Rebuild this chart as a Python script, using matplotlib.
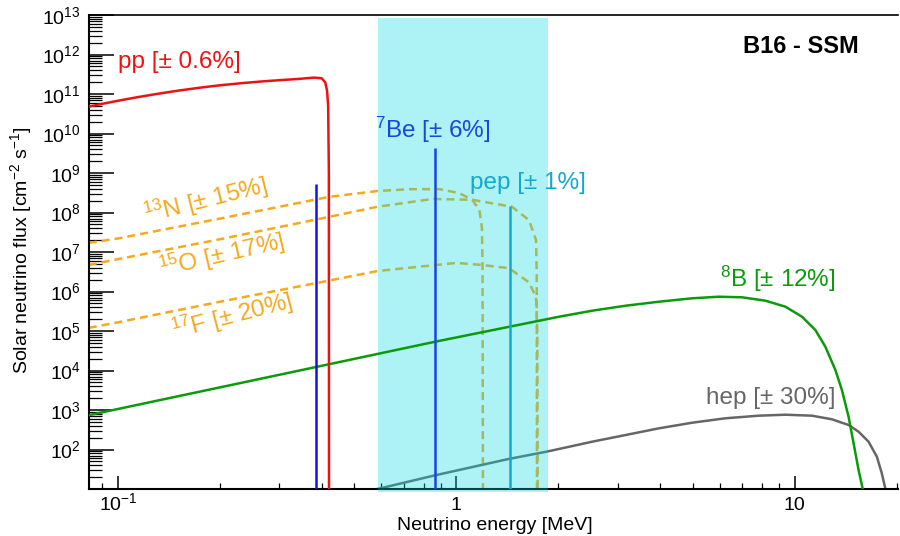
import numpy as np
import matplotlib
matplotlib.use('Agg')
import matplotlib.pyplot as plt
from matplotlib.ticker import FixedLocator, FixedFormatter, LogLocator, NullFormatter

plt.rcParams['font.family'] = ['Liberation Sans', 'DejaVu Sans']
plt.rcParams['mathtext.fontset'] = 'custom'
plt.rcParams['mathtext.rm'] = 'Liberation Sans'
plt.rcParams['mathtext.it'] = 'Liberation Sans:italic'
plt.rcParams['mathtext.bf'] = 'Liberation Sans:bold'

# values: energy [MeV], flux [cm^-2 s^-1]
pp_E = [0.082, 0.09, 0.10, 0.115, 0.13, 0.15, 0.174, 0.20, 0.235, 0.27, 0.31, 0.344,
        0.38, 0.40, 0.41, 0.415, 0.418, 0.42, 0.4205]
pp_flux = [4.8e10, 5.65e10, 6.75e10, 8.4e10, 1.0e11, 1.21e11, 1.44e11, 1.66e11, 1.9e11,
           2.1e11, 2.28e11, 2.42e11, 2.6e11, 2.5e11, 1.95e11, 1.2e11, 5e10, 1e9, 1.0]

n13_E = [0.082, 0.10, 0.20, 0.422, 0.585, 0.73, 0.89, 1.02, 1.114, 1.17, 1.19, 1.195, 1.199]
n13_flux = [1.7e7, 2.2e7, 7e7, 2.5e8, 3.5e8, 3.9e8, 3.9e8, 3.1e8, 2.1e8, 1.16e8, 4.2e7, 5e6, 1.0]

o15_E = [0.082, 0.10, 0.20, 0.422, 0.585, 0.85, 1.114, 1.46, 1.64, 1.72, 1.728, 1.732]
o15_flux = [4.7e6, 6.6e6, 2.1e7, 7.8e7, 1.4e8, 2.2e8, 2.1e8, 1.4e8, 6.4e7, 2.0e7, 3e6, 1.0]

f17_E = [0.082, 0.10, 0.20, 0.422, 0.585, 1.0, 1.19, 1.43, 1.64, 1.72, 1.735, 1.74]
f17_flux = [1.2e5, 1.66e5, 5.5e5, 1.9e6, 3.3e6, 5.3e6, 4.7e6, 3.9e6, 1.7e6, 7.2e5, 1e5, 1.0]

b8_E = [0.082, 0.344, 0.861, 1.42, 2.013, 2.524, 3.167, 3.972, 4.98, 5.967, 6.99, 8.197,
        9.39, 10.51, 11.51, 12.32, 13.19, 13.79, 14.43, 14.93, 15.45, 15.87, 15.9]
b8_flux = [740, 1.0e4, 5.3e4, 1.26e5, 2.3e5, 3.27e5, 4.37e5, 5.52e5, 6.73e5, 7.38e5, 7.13e5,
           5.85e5, 4.12e5, 2.3e5, 1.06e5, 4.01e4, 1.03e4, 3.21e3, 676, 144, 30, 10.5, 1.0]

hep_E = [0.585, 0.861, 1.42, 1.87, 2.524, 3.167, 3.972, 4.98, 6.245, 7.83, 9.39, 11.25,
         12.88, 14.43, 15.45, 16.53, 17.49, 18.09, 18.52, 18.7]
hep_flux = [10, 22, 57, 90, 158, 233, 344, 477, 617, 718, 760, 718, 582, 417, 282, 158,
            66, 25, 10.5, 1.0]

line_E = [0.384, 0.862, 1.442]
line_flux = [5.3e8, 4.3e9, 1.45e8]

band_E = [0.585, 1.87]

ytick_vals = [10.0 ** k for k in range(2, 14)]
ytick_labels = [r'$\mathregular{10^{%d}}$' % k for k in range(2, 14)]
xtick_vals = [0.1, 1, 10]
xtick_labels = [r'$\mathregular{10^{-1}}$', '1', '10']

c_pp = '#ee1111'
c_cno = '#f8a81c'
c_be384 = '#1414e0'
c_be862 = '#1a46e0'
c_pep = '#16a8cc'
c_b8 = '#0a9a0a'
c_hep = '#666666'

fig = plt.figure(figsize=(9, 5.36), dpi=100)
ax = fig.add_axes([89 / 900, 1 - 489 / 536, (898 - 89) / 900, (489 - 15) / 536])
ax.set_xscale('log')
ax.set_yscale('log')
ax.set_xlim(0.0821, 20.2)
ax.set_ylim(10, 1e13)

dash = (0, (3.2, 2.0))
ax.plot(n13_E, n13_flux, color=c_cno, lw=1.8, ls=dash, zorder=2)
ax.plot(o15_E, o15_flux, color=c_cno, lw=1.8, ls=dash, zorder=2)
ax.plot(f17_E, f17_flux, color=c_cno, lw=1.8, ls=dash, zorder=2)
ax.plot(hep_E, hep_flux, color=c_hep, lw=1.8, zorder=2)

ax.axvspan(band_E[0], band_E[1], ymin=-0.0063, ymax=0.9937, color=(0.0, 0.85, 0.87),
           alpha=0.32, lw=0, zorder=3, clip_on=False)

ax.plot(b8_E, b8_flux, color=c_b8, lw=1.8, zorder=4)
ax.plot(pp_E, pp_flux, color=c_pp, lw=1.8, zorder=4)
ax.vlines(line_E, 1, line_flux, colors=[c_be384, c_be862, c_pep], lw=1.8, zorder=4)

fs = 17.5
ax.text(0.1, 6.6e11, 'pp [± 0.6%]', color=c_pp, fontsize=fs, ha='left', va='center')
ax.text(0.573, 1.23e10, '$^{7}$Be [± 6%]', color=c_be862, fontsize=fs, ha='left', va='center')
ax.text(1.10, 5.7e8, 'pep [± 1%]', color=c_pep, fontsize=fs, ha='left', va='center')
ax.text(13.2, 2.1e6, '$^{8}$B [± 12%]', color=c_b8, fontsize=fs, ha='right', va='center')
ax.text(13.2, 1.96e3, 'hep [± 30%]', color=c_hep, fontsize=fs, ha='right', va='center')
ax.text(0.181, 2.1e8, '$^{13}$N [± 15%]', color=c_cno, fontsize=fs, ha='center', va='center',
        rotation=14, rotation_mode='anchor')
ax.text(0.203, 8.3e6, '$^{15}$O [± 17%]', color=c_cno, fontsize=fs, ha='center', va='center',
        rotation=13, rotation_mode='anchor')
ax.text(0.218, 2.4e5, '$^{17}$F [± 20%]', color=c_cno, fontsize=fs, ha='center', va='center',
        rotation=14.5, rotation_mode='anchor')
ax.text(15.5, 1.6e12, 'B16 - SSM', color='black', fontsize=17, fontweight='bold',
        ha='right', va='center')

ax.yaxis.set_major_locator(FixedLocator(ytick_vals))
ax.yaxis.set_major_formatter(FixedFormatter(ytick_labels))
ax.yaxis.set_minor_locator(LogLocator(base=10, subs=np.arange(2, 10), numticks=50))
ax.yaxis.set_minor_formatter(NullFormatter())
ax.xaxis.set_major_locator(FixedLocator(xtick_vals))
ax.xaxis.set_major_formatter(FixedFormatter(xtick_labels))
ax.xaxis.set_minor_locator(LogLocator(base=10, subs=np.arange(2, 10), numticks=50))
ax.xaxis.set_minor_formatter(NullFormatter())

ax.tick_params(axis='y', which='major', direction='in', length=18, width=1.1, pad=6, labelsize=14)
ax.tick_params(axis='y', which='minor', direction='in', length=9, width=0.9)
ax.tick_params(axis='x', which='major', direction='in', length=9.5, width=1.1, pad=15, labelsize=14)
ax.tick_params(axis='x', which='minor', direction='in', length=4.5, width=0.9)
for t in ax.get_xticklabels():
    t.set_verticalalignment('baseline')

ax.spines['right'].set_visible(False)
ax.spines['left'].set_linewidth(1.5)
ax.spines['bottom'].set_linewidth(1.5)
ax.spines['top'].set_linewidth(1.2)

fig.text(21 / 900, 1 - 250 / 536, 'Solar neutrino flux [cm$^{-2}$ s$^{-1}$]', fontsize=14,
         rotation=90, ha='center', va='center')
fig.text(495 / 900, 1 - 525 / 536, 'Neutrino energy [MeV]', fontsize=14, ha='center', va='center')

fig.savefig('out.png', dpi=100)
